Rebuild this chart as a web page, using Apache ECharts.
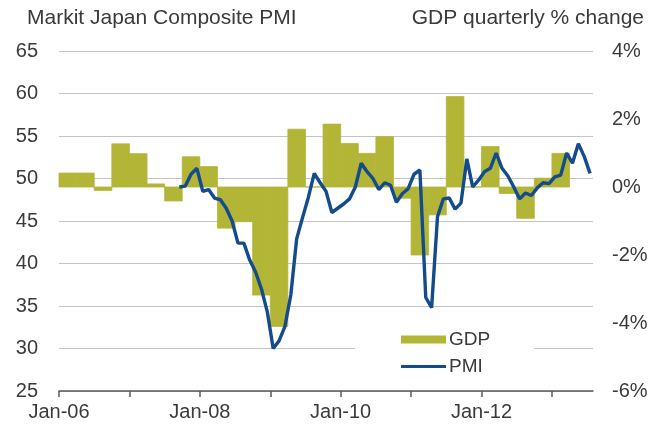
<!DOCTYPE html>
<html><head><meta charset="utf-8">
<script src="https://cdn.jsdelivr.net/npm/echarts@6/dist/echarts.min.js"></script>
<style>html,body{margin:0;padding:0;background:#fff}#c{width:653px;height:425px}</style>
</head><body><div id="c"></div>
<script>
// ---- data ----
// x positions are months since Jan-06
const xTickMonths = [0, 12, 24, 36, 48, 60, 72, 84];
const xLabelMonths = [0, 24, 48, 72];
const xLabels = ['Jan-06', 'Jan-08', 'Jan-10', 'Jan-12'];

const gdpQuarters = ['Q1-06','Q2-06','Q3-06','Q4-06','Q1-07','Q2-07','Q3-07','Q4-07',
  'Q1-08','Q2-08','Q3-08','Q4-08','Q1-09','Q2-09','Q3-09','Q4-09',
  'Q1-10','Q2-10','Q3-10','Q4-10','Q1-11','Q2-11','Q3-11','Q4-11',
  'Q1-12','Q2-12','Q3-12','Q4-12','Q1-13'];
const gdpValues = [0.41, 0.41, -0.10, 1.27, 0.98, 0.09, -0.41, 0.89,
  0.60, -1.21, -1.02, -3.18, -4.10, 1.70, 0.00, 1.85,
  1.28, 0.99, 1.48, -0.33, -2.00, -0.82, 2.66, 0.00,
  1.19, -0.19, -0.92, 0.26, 0.99];

const pmiFirstMonth = 20; // Sep-07
const pmiValues = [49.0, 49.1, 50.5, 51.2, 48.5, 48.7, 47.7, 47.5, 46.5, 45.0,
  42.4, 42.4, 40.4, 39.0, 37.0, 34.3, 30.0, 30.9, 32.6, 36.3,
  42.9, 45.4, 47.8, 50.6, 49.5, 48.5, 46.0, 46.5, 47.0, 47.6,
  49.0, 51.8, 50.8, 50.0, 48.7, 49.5, 49.2, 47.2, 48.2, 48.8,
  50.5, 51.0, 36.0, 34.8, 45.5, 47.6, 47.7, 46.4, 47.1, 52.3,
  49.0, 49.8, 50.8, 51.2, 53.0, 51.2, 50.3, 49.0, 47.6, 48.3,
  48.0, 48.9, 49.5, 49.4, 50.2, 50.4, 53.0, 51.8, 54.1, 52.6, 50.6];

// ---- build ----
const gdpData = gdpValues.map((v, i) => [i * 3, v, gdpQuarters[i]]);
const pmiData = pmiValues.map((v, i) => [pmiFirstMonth + i + 0.5, v]);

const FONT = '"Liberation Sans", Arial, sans-serif';
const TXT = '#3a3a3a';
const OLIVE = '#b3b536';
const NAVY = '#134b8c';
const chart = echarts.init(document.getElementById('c'), null, {renderer: 'canvas'});
chart.setOption({
  animation: false,
  backgroundColor: '#fff',
  textStyle: {fontFamily: FONT},
  title: [
    {text: 'Markit Japan Composite PMI', left: 27, top: 8, padding: 0,
     textStyle: {fontFamily: FONT, fontSize: 21, fontWeight: 'normal', color: TXT}},
    {text: 'GDP quarterly % change', right: 9, top: 8, padding: 0,
     textStyle: {fontFamily: FONT, fontSize: 21, fontWeight: 'normal', color: TXT}}
  ],
  grid: {left: 59, right: 60, top: 51, bottom: 34, containLabel: false},
  legend: {
    orient: 'vertical', left: 355, top: 318,
    padding: [12, 44, 8, 46], backgroundColor: '#fff',
    itemWidth: 45, itemHeight: 8, itemGap: 8,
    textStyle: {fontFamily: FONT, fontSize: 19, color: TXT, padding: [0, 0, 0, -2]},
    data: [
      {name: 'GDP', icon: 'rect', itemStyle: {color: OLIVE}},
      {name: 'PMI', icon: 'path://M0,0H45V3.2H0Z', itemStyle: {color: NAVY}}
    ]
  },
  xAxis: {
    type: 'value', min: 0, max: 91, interval: 12,
    axisLine: {show: true, onZero: false, lineStyle: {color: '#5a5a5a', width: 1.5}},
    axisTick: {show: true, customValues: xTickMonths, length: 6, lineStyle: {color: '#5a5a5a', width: 1.5}},
    axisLabel: {customValues: xLabelMonths, formatter: v => xLabels[xLabelMonths.indexOf(v)] || '',
      fontFamily: FONT, fontSize: 20, color: TXT, margin: 11},
    splitLine: {show: false}
  },
  yAxis: [
    {type: 'value', min: 25, max: 65, interval: 5, position: 'left',
     axisLine: {show: false}, axisTick: {show: false},
     axisLabel: {fontFamily: FONT, fontSize: 20, color: TXT, margin: 21},
     splitLine: {show: true, lineStyle: {color: '#c4c4c4', width: 1}}},
    {type: 'value', min: -6, max: 4, interval: 2, position: 'right',
     axisLine: {show: false}, axisTick: {show: false},
     axisLabel: {fontFamily: FONT, fontSize: 20, color: TXT, margin: 19, formatter: '{value}%'},
     splitLine: {show: false}}
  ],
  series: [
    {
      name: 'GDP', type: 'custom', yAxisIndex: 1, z: 2,
      itemStyle: {color: OLIVE},
      encode: {x: 0, y: 1},
      data: gdpData,
      renderItem: function (params, api) {
        const s = api.value(0), v = api.value(1);
        const a = api.coord([s, 0]);
        const b = api.coord([s + 3, v]);
        return {type: 'rect',
          shape: {x: a[0], y: Math.min(a[1], b[1]), width: b[0] - a[0], height: Math.abs(b[1] - a[1])},
          style: {fill: OLIVE, stroke: OLIVE, lineWidth: 0.8}};
      }
    },
    {
      name: 'PMI', type: 'line', yAxisIndex: 0, z: 3,
      symbol: 'none', showSymbol: false,
      lineStyle: {color: NAVY, width: 3.4},
      itemStyle: {color: NAVY},
      data: pmiData
    }
  ]
});
</script></body></html>
